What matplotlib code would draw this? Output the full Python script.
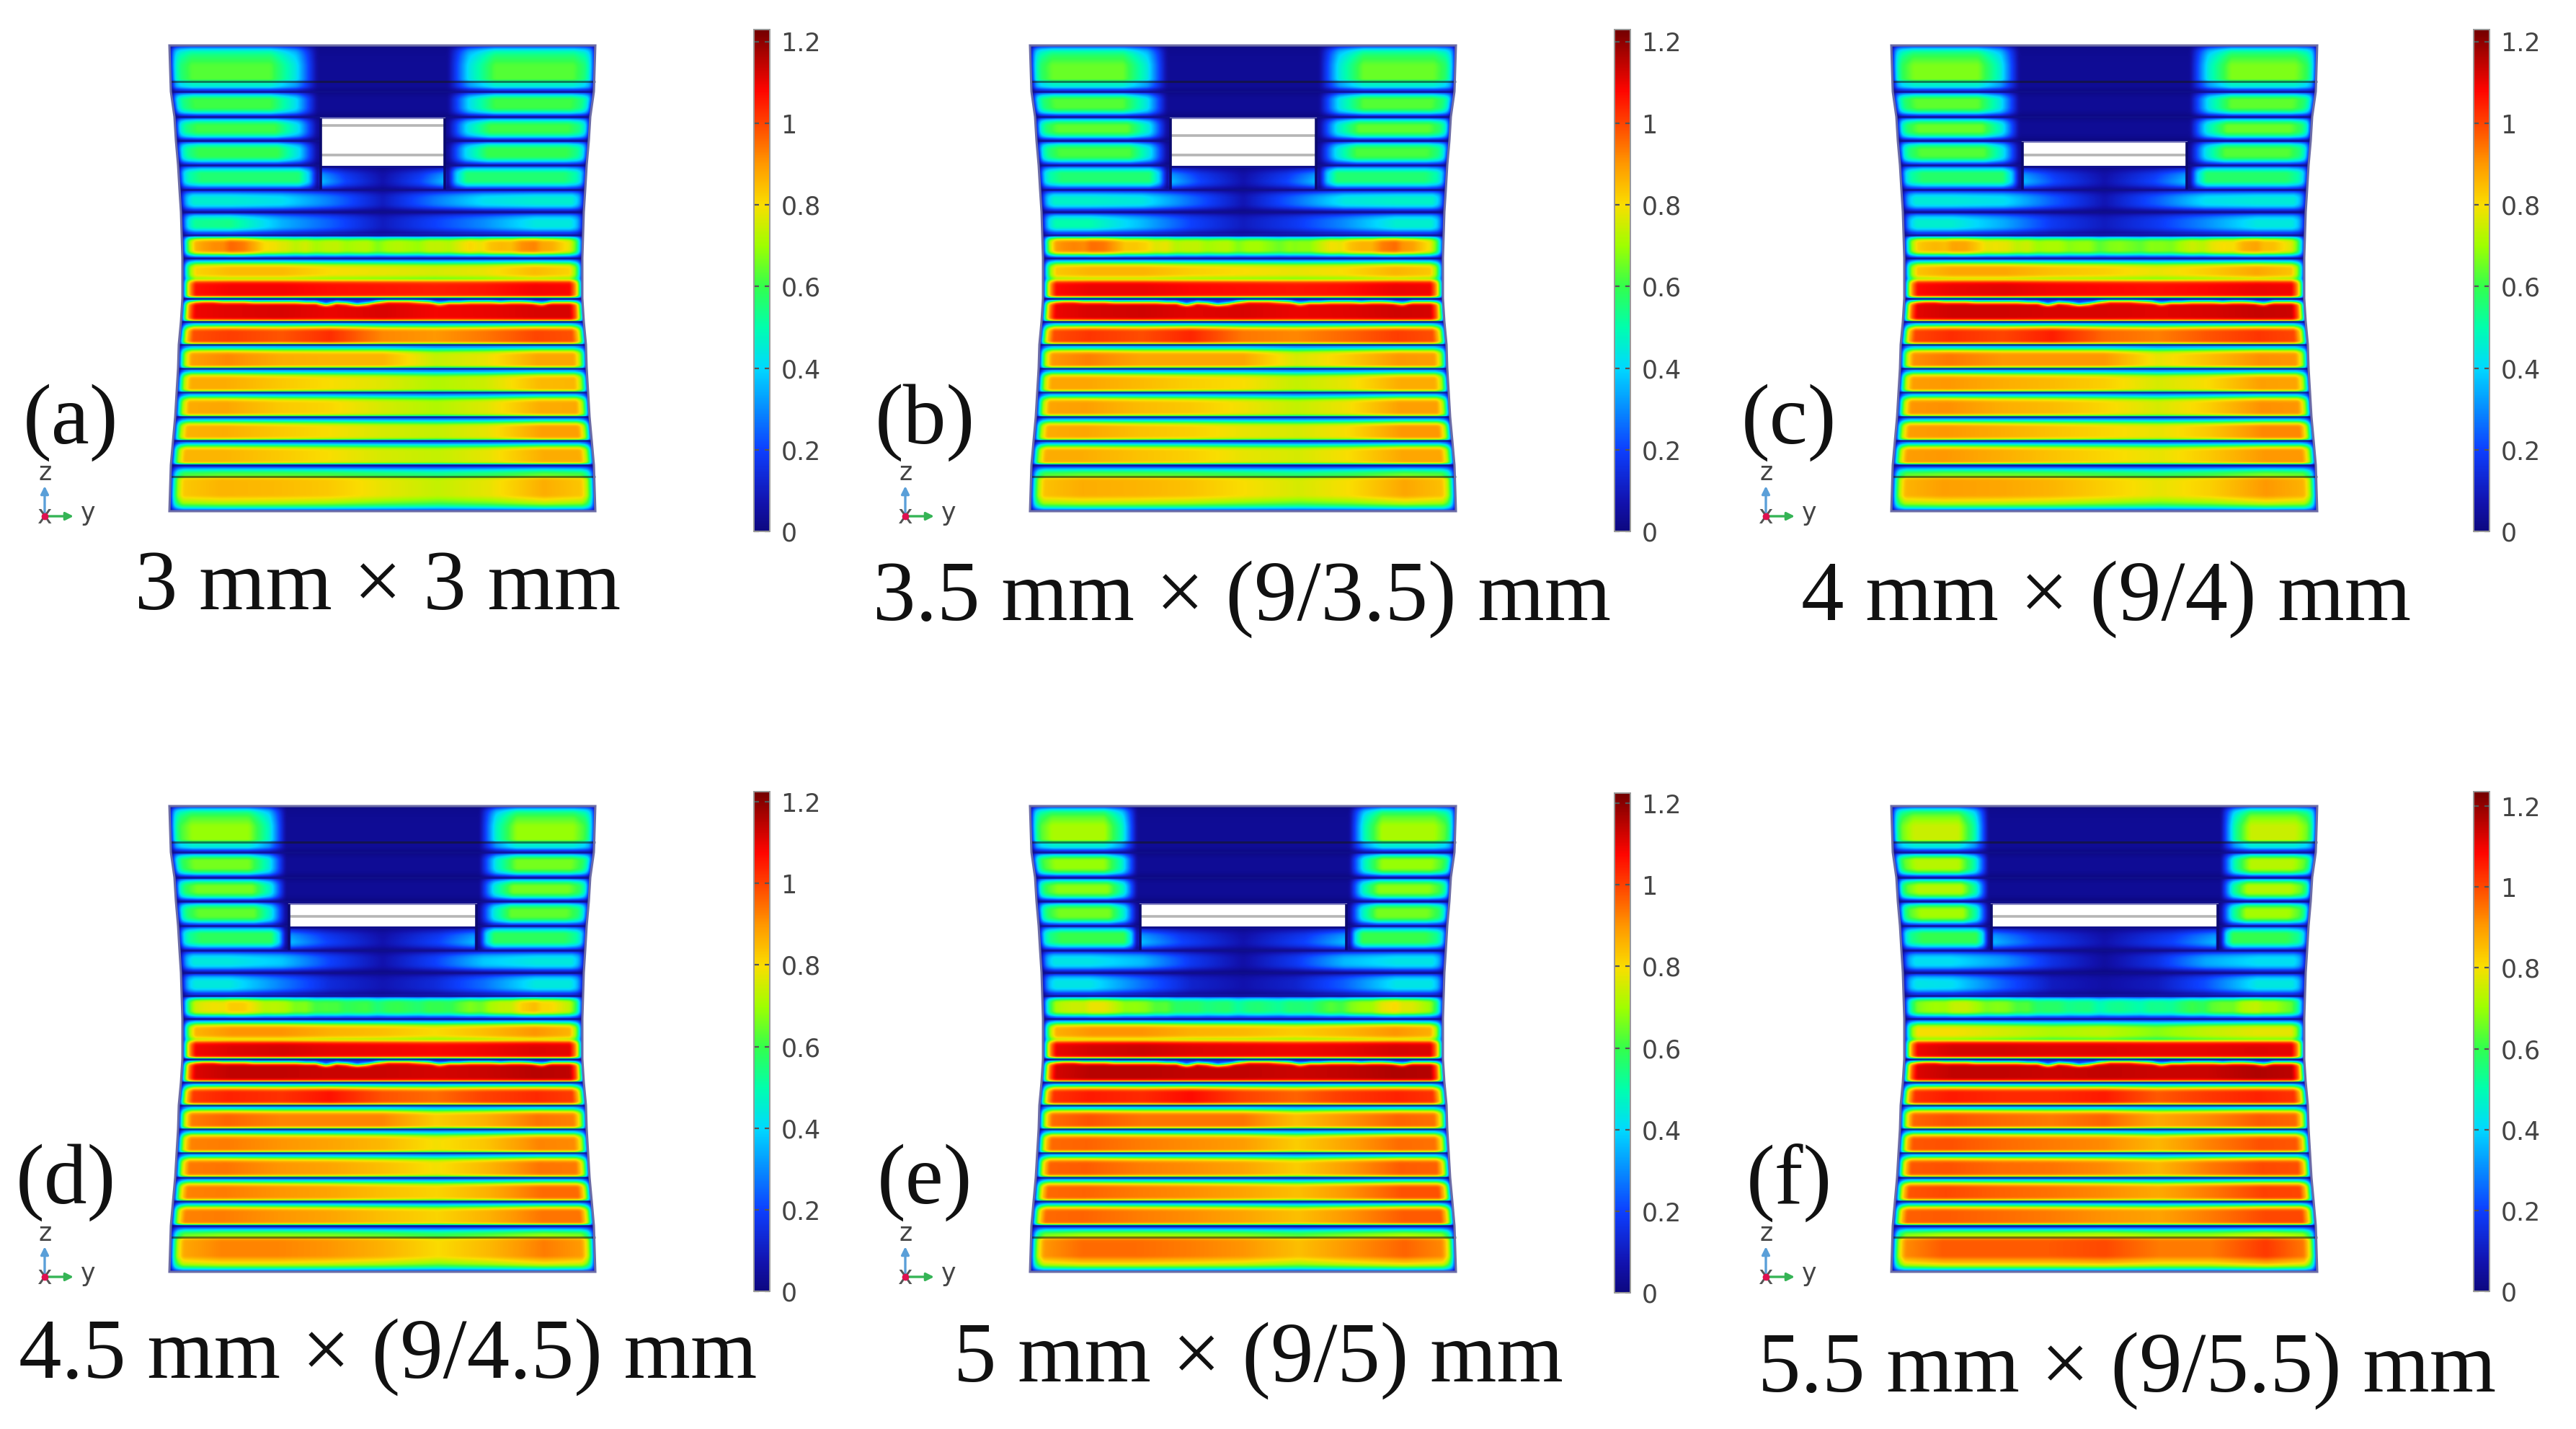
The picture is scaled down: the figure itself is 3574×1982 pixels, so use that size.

import numpy as np
import matplotlib
matplotlib.use("Agg")
import matplotlib.pyplot as plt
from matplotlib.colors import LinearSegmentedColormap, Normalize
from matplotlib.cm import ScalarMappable
from matplotlib.patches import Polygon, Rectangle

W_PX, H_PX = 3574, 1982
panel_labels = ["(a)", "(b)", "(c)", "(d)", "(e)", "(f)"]
captions = ["3 mm × 3 mm", "3.5 mm × (9/3.5) mm", "4 mm × (9/4) mm",
            "4.5 mm × (9/4.5) mm", "5 mm × (9/5) mm", "5.5 mm × (9/5.5) mm"]
tick_values = [0, 0.2, 0.4, 0.6, 0.8, 1, 1.2]
tick_labels = ["0", "0.2", "0.4", "0.6", "0.8", "1", "1.2"]
bar_max = [1.23, 1.23, 1.23, 1.225, 1.225, 1.236]

panel_x = [235, 1429, 2624, 235, 1429, 2624]
panel_y = [63, 63, 63, 1118, 1118, 1118]
hole_half = [86, 101, 114, 130, 143, 157]
hole_top = [101, 101, 134, 136, 136, 136]
hole_lines = [[111, 152], [125, 152], [152], [153], [153], [153]]
bar_x = [1046, 2240, 3432, 1046, 2240, 3432]
bar_y = [(41, 737), (41, 737), (41, 737), (1098, 1791), (1100, 1793), (1098, 1791)]
label_xy = [(98, 586), (1283, 586), (2482, 586), (91, 1640), (1283, 1640), (2482, 1640)]
caption_xy = [(524, 816), (1723, 831), (2922, 831), (538, 1882), (1746, 1887), (2951, 1901)]
triad_xy = [(62, 716), (1256, 716), (2450, 716), (62, 1771), (1256, 1771), (2450, 1771)]

# layer geometry (px below the top of the block)
row_top = [0, 50, 64, 99, 132, 166, 200, 231, 263, 295, 326, 351, 383, 415, 448, 481, 515, 548, 582, 598]
row_bot = [50, 64, 99, 132, 166, 200, 231, 263, 295, 326, 351, 383, 415, 448, 481, 515, 548, 582, 598, 646]
solid_lines = [64, 99, 132, 166, 200, 231, 263, 295, 351, 383, 415, 448, 481, 515, 548, 582]
side_y = [0, 64, 99, 132, 166, 200, 231, 263, 295, 351, 383, 415, 448, 481, 515, 548, 582, 646]
side_inset = [0, 2, 7, 9, 12, 14, 16, 17, 18, 18, 16, 13, 12, 10, 8, 5, 2, 0]
BLOCK_W = 591

# peak levels at the sides of the upper layers (rows 0-5)
upper_side = [
    [0.63, 0.47, 0.61, 0.61, 0.60, 0.56],
    [0.65, 0.47, 0.63, 0.64, 0.62, 0.56],
    [0.67, 0.47, 0.64, 0.65, 0.63, 0.57],
    [0.69, 0.46, 0.66, 0.66, 0.64, 0.58],
    [0.71, 0.46, 0.69, 0.68, 0.66, 0.60],
    [0.75, 0.46, 0.73, 0.73, 0.71, 0.60],
]
transition = [66, 62, 58, 52, 46, 42]
transition_scale = [1.0, 1.0, 1.0, 0.9, 0.85, 0.4]
dark_level = 0.035
slot_levels = [0.07, 0.2, 0.36]

columns = [0.0, 0.12, 0.25, 0.37, 0.5, 0.63, 0.75, 0.88, 1.0]
# rows: 200-231, 231-263, 263-295, 295-326, 326-351, 351-383, 383-415,
#       415-448, 448-481, 481-515, 515-548, 548-582, 598-646
lower_a = [
    [0.46, 0.46, 0.42, 0.28, 0.10, 0.28, 0.42, 0.46, 0.46],
    [0.52, 0.54, 0.35, 0.24, 0.10, 0.20, 0.30, 0.44, 0.44],
    [0.80, 0.96, 0.75, 0.72, 0.70, 0.72, 0.80, 0.92, 0.72],
    [0.80, 0.85, 0.85, 0.80, 0.78, 0.76, 0.78, 0.85, 0.80],
    [1.06, 1.09, 1.09, 1.07, 1.06, 1.05, 1.06, 1.09, 1.08],
    [1.09, 1.11, 1.12, 1.10, 1.12, 1.09, 1.10, 1.12, 1.12],
    [0.98, 1.01, 0.98, 1.03, 0.92, 0.90, 0.94, 1.00, 0.98],
    [0.88, 0.92, 0.87, 0.86, 0.86, 0.74, 0.78, 0.88, 0.88],
    [0.87, 0.87, 0.83, 0.80, 0.77, 0.72, 0.75, 0.85, 0.86],
    [0.87, 0.88, 0.83, 0.81, 0.76, 0.72, 0.77, 0.87, 0.88],
    [0.86, 0.87, 0.83, 0.80, 0.76, 0.74, 0.78, 0.89, 0.89],
    [0.86, 0.86, 0.83, 0.80, 0.76, 0.74, 0.78, 0.87, 0.87],
    [0.82, 0.86, 0.85, 0.83, 0.78, 0.74, 0.78, 0.87, 0.82],
]
lower_b = [
    [0.47, 0.47, 0.44, 0.26, 0.08, 0.26, 0.44, 0.47, 0.47],
    [0.50, 0.50, 0.36, 0.20, 0.10, 0.18, 0.30, 0.46, 0.46],
    [0.85, 0.95, 0.80, 0.72, 0.70, 0.66, 0.80, 0.95, 0.72],
    [0.82, 0.86, 0.86, 0.82, 0.80, 0.78, 0.80, 0.86, 0.82],
    [1.07, 1.10, 1.10, 1.08, 1.07, 1.06, 1.07, 1.10, 1.09],
    [1.09, 1.12, 1.13, 1.11, 1.12, 1.10, 1.11, 1.13, 1.12],
    [0.98, 1.02, 0.99, 1.04, 0.94, 0.92, 0.96, 1.01, 0.98],
    [0.89, 0.93, 0.88, 0.88, 0.88, 0.76, 0.82, 0.90, 0.89],
    [0.88, 0.88, 0.85, 0.82, 0.80, 0.74, 0.78, 0.87, 0.87],
    [0.88, 0.89, 0.85, 0.83, 0.79, 0.74, 0.79, 0.89, 0.89],
    [0.87, 0.88, 0.84, 0.82, 0.78, 0.76, 0.80, 0.90, 0.90],
    [0.87, 0.87, 0.84, 0.82, 0.78, 0.76, 0.80, 0.88, 0.88],
    [0.83, 0.87, 0.86, 0.84, 0.80, 0.76, 0.80, 0.88, 0.83],
]
lower_c = [
    [0.45, 0.45, 0.42, 0.24, 0.08, 0.24, 0.42, 0.45, 0.45],
    [0.46, 0.46, 0.34, 0.18, 0.10, 0.18, 0.30, 0.44, 0.44],
    [0.78, 0.88, 0.76, 0.70, 0.66, 0.66, 0.74, 0.88, 0.72],
    [0.82, 0.88, 0.88, 0.84, 0.82, 0.78, 0.82, 0.88, 0.82],
    [1.07, 1.10, 1.11, 1.09, 1.08, 1.07, 1.08, 1.10, 1.09],
    [1.10, 1.13, 1.13, 1.12, 1.12, 1.11, 1.12, 1.14, 1.13],
    [0.99, 1.03, 1.00, 1.05, 0.96, 0.93, 0.98, 1.02, 0.99],
    [0.90, 0.94, 0.90, 0.90, 0.90, 0.78, 0.84, 0.91, 0.90],
    [0.89, 0.90, 0.87, 0.85, 0.82, 0.76, 0.80, 0.89, 0.88],
    [0.90, 0.91, 0.87, 0.85, 0.81, 0.76, 0.82, 0.91, 0.90],
    [0.89, 0.90, 0.87, 0.84, 0.81, 0.78, 0.83, 0.92, 0.92],
    [0.89, 0.90, 0.87, 0.84, 0.81, 0.78, 0.83, 0.90, 0.90],
    [0.85, 0.89, 0.88, 0.86, 0.82, 0.78, 0.82, 0.90, 0.85],
]
lower_d = [
    [0.44, 0.44, 0.38, 0.20, 0.07, 0.20, 0.38, 0.44, 0.44],
    [0.44, 0.44, 0.28, 0.14, 0.08, 0.14, 0.26, 0.44, 0.44],
    [0.70, 0.82, 0.70, 0.60, 0.58, 0.58, 0.66, 0.84, 0.68],
    [0.84, 0.90, 0.90, 0.86, 0.84, 0.80, 0.84, 0.90, 0.84],
    [1.08, 1.11, 1.12, 1.10, 1.09, 1.08, 1.09, 1.11, 1.10],
    [1.10, 1.14, 1.14, 1.13, 1.13, 1.12, 1.13, 1.15, 1.14],
    [1.00, 1.04, 1.02, 1.06, 0.98, 0.95, 1.00, 1.03, 1.00],
    [0.92, 0.96, 0.92, 0.92, 0.92, 0.82, 0.86, 0.94, 0.92],
    [0.92, 0.93, 0.90, 0.88, 0.85, 0.79, 0.83, 0.92, 0.91],
    [0.93, 0.94, 0.90, 0.88, 0.84, 0.79, 0.85, 0.94, 0.93],
    [0.92, 0.93, 0.90, 0.88, 0.84, 0.81, 0.86, 0.95, 0.95],
    [0.92, 0.93, 0.90, 0.88, 0.84, 0.81, 0.86, 0.94, 0.94],
    [0.86, 0.92, 0.92, 0.90, 0.86, 0.80, 0.85, 0.93, 0.88],
]
lower_e = [
    [0.43, 0.43, 0.36, 0.18, 0.06, 0.18, 0.36, 0.43, 0.43],
    [0.43, 0.43, 0.26, 0.12, 0.07, 0.12, 0.24, 0.43, 0.43],
    [0.66, 0.78, 0.66, 0.56, 0.54, 0.54, 0.62, 0.80, 0.64],
    [0.85, 0.90, 0.90, 0.86, 0.85, 0.82, 0.85, 0.90, 0.85],
    [1.09, 1.12, 1.13, 1.11, 1.10, 1.09, 1.10, 1.12, 1.11],
    [1.11, 1.15, 1.15, 1.14, 1.14, 1.13, 1.14, 1.16, 1.15],
    [1.01, 1.05, 1.03, 1.07, 1.00, 0.96, 1.01, 1.04, 1.01],
    [0.94, 0.98, 0.94, 0.94, 0.94, 0.84, 0.90, 0.96, 0.94],
    [0.95, 0.96, 0.93, 0.91, 0.89, 0.82, 0.88, 0.95, 0.94],
    [0.96, 0.97, 0.93, 0.91, 0.88, 0.82, 0.89, 0.97, 0.96],
    [0.95, 0.96, 0.93, 0.91, 0.88, 0.84, 0.90, 0.98, 0.98],
    [0.95, 0.96, 0.93, 0.91, 0.88, 0.84, 0.90, 0.97, 0.97],
    [0.88, 0.95, 0.95, 0.93, 0.90, 0.84, 0.90, 0.96, 0.90],
]
lower_f = [
    [0.42, 0.42, 0.32, 0.16, 0.05, 0.16, 0.34, 0.42, 0.42],
    [0.44, 0.42, 0.24, 0.10, 0.06, 0.10, 0.22, 0.44, 0.44],
    [0.62, 0.74, 0.66, 0.56, 0.52, 0.52, 0.60, 0.74, 0.60],
    [0.80, 0.80, 0.76, 0.72, 0.74, 0.68, 0.74, 0.78, 0.78],
    [1.09, 1.13, 1.13, 1.12, 1.12, 1.11, 1.11, 1.12, 1.11],
    [1.11, 1.15, 1.15, 1.14, 1.15, 1.14, 1.14, 1.17, 1.15],
    [1.02, 1.06, 1.04, 1.04, 1.06, 0.98, 1.02, 1.05, 1.02],
    [0.96, 0.99, 0.96, 0.94, 0.97, 0.88, 0.92, 0.98, 0.96],
    [0.98, 0.99, 0.96, 0.94, 0.92, 0.86, 0.93, 0.99, 0.98],
    [0.98, 0.99, 0.96, 0.95, 0.92, 0.86, 0.94, 1.00, 0.99],
    [0.98, 1.00, 0.97, 0.95, 0.92, 0.88, 0.94, 1.01, 1.00],
    [0.97, 0.98, 0.96, 0.94, 0.91, 0.89, 0.94, 1.00, 1.00],
    [0.90, 0.98, 0.98, 0.98, 1.00, 0.94, 0.94, 1.02, 0.92],
]
lower_tables = [lower_a, lower_b, lower_c, lower_d, lower_e, lower_f]

# hand-read wobble of the noisy layer and of the wavy front in the red layer
noise_263 = [0.00, 0.01, 0.02, 0.01, -0.02, 0.01, 0.03, 0.01, -0.02, 0.01, 0.02, -0.01, 0.02, -0.02, 0.01,
             0.02, -0.01, 0.01, 0.02, -0.03, 0.01, 0.02, 0.00, -0.02, 0.02, 0.01, -0.02, 0.01, 0.03, -0.01,
             0.02, 0.01, -0.02, 0.02, 0.01, -0.01, 0.02, 0.01, 0.00, 0.01]
wavy_351 = [1, 1, 0, 0, 1, 1, 1, 2, 2, 2, 2, 2, 3, 3, 7, 3, 4, 7, 5, 2, 0, 0, 0, 1, 2, 5, 3, 3, 2, 2, 2, 3, 2, 2, 3, 5, 2, 2, 2, 2]

cmap_stops = [0, 0.07, 0.2, 0.4, 0.5, 0.6, 0.7, 0.8, 0.9, 1.0, 1.08, 1.23]
cmap_cols = [(0.05, 0.03, 0.5), (0.07, 0.07, 0.68), (0.05, 0.25, 1.0), (0, 0.85, 1.0), (0, 1.0, 0.68), (0.2, 1.0, 0.3),
             (0.62, 1.0, 0), (0.98, 0.87, 0), (1.0, 0.6, 0), (1.0, 0.27, 0), (1.0, 0.02, 0), (0.45, 0, 0)]
cmap = LinearSegmentedColormap.from_list("rainbow_fea", [(s / 1.23, c) for s, c in zip(cmap_stops, cmap_cols)], N=512)

edge_soft_d, edge_soft_v = [0, 2.5, 6, 11], [0.1, 0.42, 0.78, 1.0]
edge_low_d, edge_low_v = [0, 2.5, 5, 8.5, 12], [0.1, 0.32, 0.55, 0.82, 1.0]
edge_fast_d, edge_fast_v = [0, 1.5, 3.5], [0.38, 0.8, 1.0]
edge_wide_d, edge_wide_v = [0, 2, 5.5, 11, 22], [0.09, 0.3, 0.58, 0.83, 1.0]


def build_field(p):
    xs = np.arange(0, BLOCK_W + 1, 3.0)
    ys = np.arange(0, 647, 3.0)
    F = np.zeros((len(ys), len(xs)))
    cx = BLOCK_W / 2
    table = lower_tables[p]
    hw = hole_half[p]
    tr = transition[p]
    for i, y in enumerate(ys):
        r = int(np.searchsorted(row_bot, y, side="right"))
        r = min(r, len(row_top) - 1)
        dt, db = y - row_top[r], row_bot[r] - y
        inset = np.interp(y, side_y, side_inset)
        xl, xr = inset, BLOCK_W - inset
        ds = np.clip(np.minimum(xs - xl, xr - xs), 0, None)
        frac = (xs - xl) / (xr - xl)
        ax_d = np.abs(xs - cx)
        if r <= 5:
            reach = tr * transition_scale[r]
            base = np.interp(ax_d, [0, hw + 4, hw + 4 + reach * 0.45, hw + 4 + reach],
                             [dark_level, dark_level, upper_side[p][r] * 0.68, upper_side[p][r]])
            if r == 5:
                inside = np.interp(ax_d / hw, [0, 0.6, 1.0], slot_levels)
                inside = inside * np.interp(dt, [0, 14, 30], [0.35, 0.9, 1.15])
                base = np.where(ax_d <= hw, inside, base)
            sd = np.interp(ds, [0, 2.5, 7, 14, 30], [0.1, 0.36, 0.72, 0.88, 1.0])
            f_top = np.interp(dt, edge_soft_d, edge_soft_v) if r != 1 else 1.0
            f_bot = np.interp(db, edge_soft_d, edge_soft_v) if r != 0 else 1.0
            if r == 0:
                f_top = np.interp(dt, [0, 2.5, 7, 14, 28], [0.1, 0.38, 0.74, 0.88, 1.0])
            if r == 1:
                f_bot = np.interp(db, [0, 2.5, 6], [0.1, 0.45, 1.0])
            v = base * sd * f_top * f_bot
        else:
            idx = min(r - 6, 11) if r < 18 else 12
            base = np.interp(frac, columns, table[idx])
            sd = np.interp(ds, [0, 2.5, 5, 10, 18], [0.1, 0.34, 0.58, 0.84, 1.0])
            if r == 6 or r == 7:
                f_top = np.interp(dt, edge_soft_d, edge_soft_v)
                f_bot = np.interp(db, [0, 2.5, 6, 10], [0.1, 0.36, 0.72, 1.0])
            elif r == 8:
                base = base + np.interp(frac, np.linspace(0, 1, len(noise_263)), noise_263)
                f_top = np.interp(dt, [0, 2.5, 6, 9], [0.1, 0.5, 0.88, 1.0])
                f_bot = np.interp(db, [0, 2.5, 6, 9], [0.1, 0.4, 0.8, 1.0])
            elif r == 9:
                f_top = np.interp(dt, edge_low_d, edge_low_v)
                f_bot = np.interp(db, [0, 3, 7], [0.76, 0.86, 1.0])
            elif r == 10:
                f_top = np.interp(dt, [0, 3, 6], [0.82, 0.97, 1.0])
                f_bot = np.interp(db, [0, 1.5, 3.5], [0.42, 0.85, 1.0])
            elif r == 11:
                shift = np.interp(frac, np.linspace(0, 1, len(wavy_351)), wavy_351)
                f_top = np.interp(dt - shift * 0.8, [-8, 0, 2, 4, 6.5], [0.13, 0.13, 0.42, 0.72, 1.0])
                f_bot = np.interp(db, edge_fast_d, edge_fast_v)
            elif r == 18:
                base = base * 0.74
                f_top = np.interp(dt, [0, 2.5, 5, 8, 12], [0.1, 0.36, 0.6, 0.85, 1.0])
                f_bot = 1.0
            elif r == 19:
                f_top = np.interp(dt, [0, 3], [0.9, 1.0])
                f_bot = np.interp(db, edge_wide_d, edge_wide_v)
            else:
                f_top = np.interp(dt, edge_low_d, edge_low_v)
                f_bot = np.interp(db, edge_fast_d, edge_fast_v)
            v = base * sd * f_top * f_bot
        F[i] = v
    return xs, ys, F


fig = plt.figure(figsize=(W_PX / 100, H_PX / 100), dpi=100, facecolor="white")
ax = fig.add_axes([0, 0, 1, 1])
ax.set_axis_off()
serif = "Liberation Serif"
sans = "DejaVu Sans"

for p in range(6):
    x0, y0 = panel_x[p], panel_y[p]
    xs, ys, F = build_field(p)
    norm = Normalize(0, bar_max[p])
    im = ax.imshow(F, cmap=cmap, norm=norm, interpolation="bicubic", interpolation_stage="data",
                   extent=[x0 - 1.5, x0 + BLOCK_W + 1.5, y0 + 646 + 1.5, y0 - 1.5], zorder=1, aspect="auto")
    lx = [x0 + v for v in side_inset]
    rx = [x0 + BLOCK_W - v for v in side_inset]
    yy = [y0 + v for v in side_y]
    poly = list(zip(lx, yy)) + list(zip(rx[::-1], yy[::-1]))
    clip = Polygon(poly, closed=True, transform=ax.transData)
    im.set_clip_path(clip)
    ax.add_patch(Polygon(poly, closed=True, fill=False, ec="#6c6ca6", lw=2.2, zorder=3))

    for ly in solid_lines:
        ins = np.interp(ly, side_y, side_inset)
        ax.plot([x0 + ins, x0 + BLOCK_W - ins], [y0 + ly, y0 + ly], color="#10108c", lw=1.9, alpha=0.8, zorder=2,
                solid_capstyle="butt")
    for ly in (50, 598):
        ax.plot([x0, x0 + BLOCK_W], [y0 + ly, y0 + ly], color="#181818", lw=2.2, alpha=0.55, zorder=2,
                solid_capstyle="butt")

    cx = x0 + BLOCK_W / 2
    hw = hole_half[p]
    ax.add_patch(Rectangle((cx - hw, y0 + hole_top[p]), 2 * hw, 168 - hole_top[p], fc="white", ec="none", zorder=4))
    for hl in hole_lines[p]:
        ax.plot([cx - hw, cx + hw], [y0 + hl, y0 + hl], color="#b5b5b5", lw=2.6, zorder=5, solid_capstyle="butt")
    ax.plot([cx - hw, cx + hw], [y0 + hole_top[p]] * 2, color="#8080c0", lw=1.6, zorder=5)
    ax.plot([cx - hw, cx + hw], [y0 + 168] * 2, color="#10108c", lw=2.2, zorder=5)
    for sx in (cx - hw, cx + hw):
        ax.plot([sx, sx], [y0 + hole_top[p], y0 + 200], color="#0a0a70", lw=2.6, zorder=5, solid_capstyle="butt")

    ax.text(*label_xy[p], panel_labels[p], family=serif, fontsize=86, ha="center", va="center", color="#111111", zorder=6)
    ax.text(*caption_xy[p], captions[p], family=serif, fontsize=85.5, ha="center", va="center", color="#111111", zorder=6)

    tx, ty = triad_xy[p]
    ax.annotate("", xy=(tx, ty - 42), xytext=(tx, ty), zorder=6,
                arrowprops=dict(arrowstyle="-|>", color="#5a9fd8", lw=2.4, mutation_scale=16, shrinkA=0, shrinkB=0))
    ax.annotate("", xy=(tx + 40, ty), xytext=(tx, ty), zorder=6,
                arrowprops=dict(arrowstyle="-|>", color="#35b455", lw=2.4, mutation_scale=16, shrinkA=0, shrinkB=0))
    ax.text(tx, ty, "x", family=sans, fontsize=25, ha="center", va="center", color="#555555", zorder=6)
    ax.plot([tx], [ty], "o", ms=6, color="#e01050", zorder=7)
    ax.text(tx + 1, ty - 60, "z", family=sans, fontsize=25, ha="center", va="center", color="#444444", zorder=6)
    ax.text(tx + 60, ty - 4, "y", family=sans, fontsize=25, ha="center", va="center", color="#444444", zorder=6)

    bx = bar_x[p]
    by0, by1 = bar_y[p]
    cax = fig.add_axes([bx / W_PX, 1 - by1 / H_PX, 22 / W_PX, (by1 - by0) / H_PX])
    cb = fig.colorbar(ScalarMappable(norm=norm, cmap=cmap), cax=cax, ticks=tick_values)
    cb.ax.set_yticklabels(tick_labels, family=sans, fontsize=25, color="#444444")
    cb.ax.tick_params(direction="in", length=5, width=1.6, color="#555555", left=True, right=True, pad=11)
    cb.outline.set_edgecolor("#999999")
    cb.outline.set_linewidth(1.4)

ax.set_xlim(0, W_PX)
ax.set_ylim(H_PX, 0)
fig.savefig("out.png", dpi=100, facecolor="white")
